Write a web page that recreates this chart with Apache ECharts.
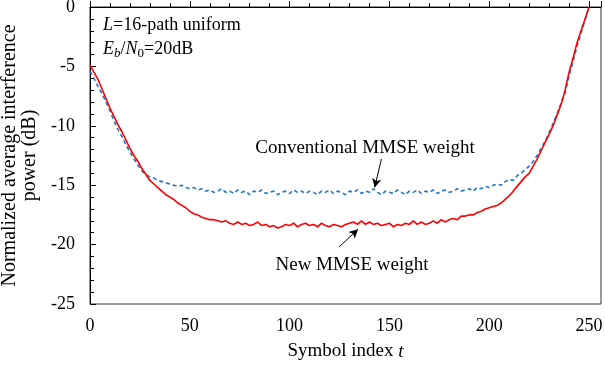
<!DOCTYPE html>
<html>
<head>
<meta charset="utf-8">
<script src="https://cdn.jsdelivr.net/npm/echarts@6/dist/echarts.min.js"></script>
<style>
  html, body { margin: 0; padding: 0; background: #fff; }
  #main { width: 605px; height: 367px; }
</style>
</head>
<body>
<div id="main"></div>
<script>
// symbol index t (every 2nd symbol)
const symbolIdx = [
  0, 2, 4, 6, 8, 10, 12, 14, 16, 18, 20, 22, 24, 26, 28, 30, 32, 34, 36, 38,
  40, 42, 44, 46, 48, 50, 52, 54, 56, 58, 60, 62, 64, 66, 68, 70, 72, 74, 76, 78,
  80, 82, 84, 86, 88, 90, 92, 94, 96, 98, 100, 102, 104, 106, 108, 110, 112, 114, 116, 118,
  120, 122, 124, 126, 128, 130, 132, 134, 136, 138, 140, 142, 144, 146, 148, 150, 152, 154, 156, 158,
  160, 162, 164, 166, 168, 170, 172, 174, 176, 178, 180, 182, 184, 186, 188, 190, 192, 194, 196, 198,
  200, 202, 204, 206, 208, 210, 212, 214, 216, 218, 220, 222, 224, 226, 228, 230, 232, 234, 236, 238,
  240, 242, 244, 246, 248, 250
]

// New MMSE weight (dB)
const newMmse = [
  -4.9, -5.5, -6.1, -6.9, -7.7, -8.5, -9.2, -9.9, -10.5, -11.2, -11.9, -12.5, -13.0, -13.6, -14.1, -14.6, -14.9, -15.2, -15.5, -15.8,
  -16.0, -16.2, -16.5, -16.7, -16.9, -17.2, -17.4, -17.5, -17.7, -17.8, -17.9, -17.9, -18.0, -18.1, -18.0, -18.2, -18.3, -18.1, -18.3, -18.2,
  -18.4, -18.3, -18.1, -18.4, -18.3, -18.5, -18.4, -18.6, -18.5, -18.3, -18.4, -18.2, -18.5, -18.3, -18.2, -18.4, -18.3, -18.5, -18.2, -18.4,
  -18.5, -18.3, -18.4, -18.5, -18.3, -18.2, -18.1, -18.3, -18.0, -18.3, -18.1, -18.3, -18.2, -18.4, -18.3, -18.2, -18.5, -18.3, -18.4, -18.2,
  -18.3, -18.0, -18.3, -18.1, -18.3, -18.2, -18.0, -18.2, -17.9, -18.1, -17.9, -17.8, -17.9, -17.6, -17.6, -17.5, -17.5, -17.3, -17.2, -17.0,
  -16.9, -16.8, -16.7, -16.5, -16.2, -15.9, -15.5, -15.1, -14.7, -14.3, -14.0, -13.4, -12.8, -12.1, -11.4, -10.7, -10.0, -9.1, -8.2, -7.0,
  -5.5, -4.3, -3.0, -2.0, -1.0, 0.0
]

// Conventional MMSE weight (dB)
const convMmse = [
  -5.4, -6.0, -6.7, -7.3, -8.0, -8.7, -9.6, -10.3, -10.9, -11.6, -12.2, -12.8, -13.3, -13.8, -14.1, -14.3, -14.4, -14.6, -14.7, -14.8,
  -14.9, -15.0, -15.1, -15.0, -15.2, -15.3, -15.2, -15.4, -15.3, -15.5, -15.4, -15.6, -15.5, -15.3, -15.6, -15.5, -15.7, -15.4, -15.6, -15.5,
  -15.8, -15.5, -15.6, -15.4, -15.7, -15.6, -15.5, -15.8, -15.6, -15.5, -15.7, -15.4, -15.6, -15.5, -15.7, -15.5, -15.6, -15.8, -15.5, -15.6,
  -15.4, -15.7, -15.5, -15.6, -15.8, -15.5, -15.6, -15.4, -15.7, -15.5, -15.6, -15.3, -15.6, -15.8, -15.5, -15.6, -15.7, -15.4, -15.6, -15.8,
  -15.5, -15.6, -15.4, -15.7, -15.5, -15.6, -15.4, -15.7, -15.5, -15.4, -15.6, -15.5, -15.3, -15.5, -15.4, -15.3, -15.5, -15.2, -15.3, -15.1,
  -15.2, -15.0, -14.9, -15.0, -14.7, -14.5, -14.6, -14.2, -14.0, -13.7, -13.4, -13.0, -12.5, -11.9, -11.3, -10.6, -9.8, -9.0, -8.1, -7.2,
  -5.8, -4.6, -3.3, -2.2, -1.1, 0.0
]

// annotation arrows, in data coordinates [t, dB]
const convArrow = [[146, -12.8], [142.6, -15.2]]
const newArrow = [[124.8, -20.2], [134.3, -18.7]]

const serif = '"Liberation Serif", "Times New Roman", serif'

const chart = echarts.init(document.getElementById('main'))

const arrowLine = (pts) => [{ coord: pts[0] }, { coord: pts[1] }]

const option = {
  animation: false,
  backgroundColor: '#fff',
  textStyle: { fontFamily: serif, color: '#000' },
  grid: {
    left: 90, right: 4, top: 7, bottom: 63,
    outerBoundsMode: 'none',
    containLabel: false,
    show: true, borderColor: '#333', borderWidth: 1
  },
  xAxis: {
    type: 'value',
    min: 0, max: 256, interval: 50,
    name: 'Symbol index {i|t}',
    nameLocation: 'middle',
    nameGap: 38,
    nameTextStyle: {
      fontFamily: serif, fontSize: 19, color: '#000',
      rich: { i: { fontFamily: serif, fontSize: 19, fontStyle: 'italic', color: '#000' } }
    },
    axisLine: { lineStyle: { color: '#000', width: 1 } },
    axisTick: { inside: true, length: 6, lineStyle: { color: '#000' } },
    minorTick: { show: true, splitNumber: 5, length: 4, lineStyle: { color: '#000' } },
    axisLabel: { fontFamily: serif, fontSize: 18, color: '#000', margin: 13, showMaxLabel: false },
    splitLine: { show: false }
  },
  yAxis: {
    type: 'value',
    min: -25, max: 0, interval: 5,
    name: 'Normalized average interference\npower (dB)',
    nameLocation: 'middle',
    nameGap: 45,
    nameTextStyle: { fontFamily: serif, fontSize: 20, lineHeight: 20, color: '#000', align: 'center' },
    axisLine: { show: true, lineStyle: { color: '#000', width: 1 } },
    axisTick: { inside: true, length: 6, lineStyle: { color: '#000' } },
    minorTick: { show: true, splitNumber: 5, length: 4, lineStyle: { color: '#000' } },
    axisLabel: { fontFamily: serif, fontSize: 18, color: '#000', margin: 15 },
    splitLine: { show: false }
  },
  series: [
    {
      name: 'Conventional MMSE weight',
      type: 'line',
      data: symbolIdx.map((t, i) => [t, convMmse[i]]),
      showSymbol: false,
      lineStyle: { color: '#1f78c8', width: 1.6, type: [4, 3] },
      z: 2,
      markLine: {
        silent: true,
        symbol: ['none', 'arrow'],
        symbolSize: [7, 9],
        label: { show: false },
        lineStyle: { color: '#000', width: 1, type: 'solid' },
        data: [arrowLine(convArrow)]
      }
    },
    {
      name: 'New MMSE weight',
      type: 'line',
      data: symbolIdx.map((t, i) => [t, newMmse[i]]),
      showSymbol: false,
      lineStyle: { color: '#ff0000', width: 1.6 },
      z: 3,
      markLine: {
        silent: true,
        symbol: ['none', 'arrow'],
        symbolSize: [7, 9],
        label: { show: false },
        lineStyle: { color: '#000', width: 1, type: 'solid' },
        data: [arrowLine(newArrow)]
      }
    }
  ],
  graphic: [
    {
      type: 'text', x: 103, y: 25,
      style: {
        text: '{i|L}{n|=16-path uniform}',
        verticalAlign: 'middle',
        rich: {
          i: { fontFamily: serif, fontSize: 18, fontStyle: 'italic', fill: '#000' },
          n: { fontFamily: serif, fontSize: 18, fill: '#000' }
        }
      }
    },
    {
      type: 'text', x: 103, y: 49,
      style: {
        text: '{i|E}{si|b}{n|/}{i|N}{s|0}{n|=20dB}',
        verticalAlign: 'middle',
        rich: {
          i: { fontFamily: serif, fontSize: 18, fontStyle: 'italic', fill: '#000' },
          n: { fontFamily: serif, fontSize: 18, fill: '#000' },
          si: { fontFamily: serif, fontSize: 13, fontStyle: 'italic', fill: '#000', padding: [10, 0, 0, 0] },
          s: { fontFamily: serif, fontSize: 13, fill: '#000', padding: [10, 0, 0, 0] }
        }
      }
    },
    {
      type: 'text', x: 365, y: 148,
      style: {
        text: 'Conventional MMSE weight',
        fontFamily: serif, fontSize: 19, fill: '#000',
        align: 'center', verticalAlign: 'middle'
      }
    },
    {
      type: 'text', x: 352, y: 265,
      style: {
        text: 'New MMSE weight',
        fontFamily: serif, fontSize: 19, fill: '#000',
        align: 'center', verticalAlign: 'middle'
      }
    }
  ]
}

chart.setOption(option)
</script>
</body>
</html>
